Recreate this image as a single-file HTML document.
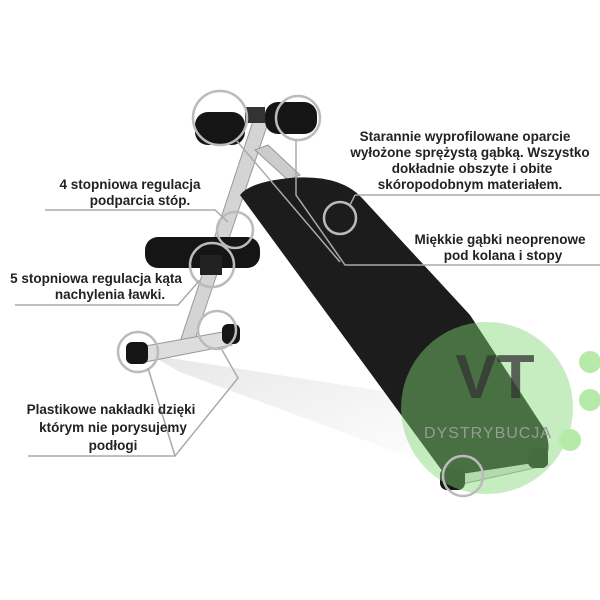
<!DOCTYPE html>
<html><head><meta charset="utf-8"><style>
html,body{margin:0;padding:0;background:#fff}
svg{display:block}
text{font-family:"Liberation Sans",sans-serif;font-weight:bold;font-size:13.5px;fill:#222;text-anchor:middle}
</style></head><body>
<svg width="600" height="600" viewBox="0 0 600 600">
<defs>
<linearGradient id="shadow" x1="0" y1="0" x2="1" y2="1"><stop offset="0" stop-color="#ddd"/><stop offset="1" stop-color="#fff"/></linearGradient>
</defs>
<polygon points="150,355 440,400 445,470 180,372" fill="url(#shadow)" opacity="0.7"/>
<polygon points="256,112 271,114 193,345 178,348" fill="#d4d4d4" stroke="#999" stroke-width="1"/>
<polygon points="255,150 268,145 300,175 288,180" fill="#ccc" stroke="#999"/>
<polygon points="455,470 545,452 548,465 458,485" fill="#ddd" stroke="#999"/>
<path d="M240,195 Q250,182 290,178 Q340,174 362,198 L470,315 L545,430 Q554,455 540,462 L455,475 Q445,476 440,468 Z" fill="#1c1c1c"/>
<rect x="195" y="112" width="50" height="33" rx="13" fill="#151515"/>
<rect x="245" y="107" width="20" height="16" fill="#333"/>
<rect x="265" y="102" width="52" height="32" rx="13" fill="#151515"/>
<rect x="145" y="237" width="115" height="31" rx="13" fill="#151515"/>
<rect x="200" y="255" width="22" height="20" fill="#222"/>
<polygon points="140,347 228,331 232,345 145,362" fill="#ddd" stroke="#999"/>
<rect x="126" y="342" width="22" height="22" rx="6" fill="#151515"/>
<rect x="222" y="324" width="18" height="20" rx="6" fill="#151515"/>
<rect x="440" y="468" width="25" height="22" rx="7" fill="#151515"/>
<rect x="528" y="448" width="20" height="20" rx="6" fill="#151515"/>
<circle cx="487" cy="408" r="86" fill="#7fd870" opacity="0.45"/>
<circle cx="590" cy="362" r="11" fill="#b5eaa8"/>
<circle cx="590" cy="400" r="11" fill="#b5eaa8"/>
<circle cx="570" cy="440" r="11" fill="#b5eaa8"/>
<text x="495" y="398" style="font-size:62px;fill:#333;opacity:0.75">VT</text>
<text x="488" y="438" style="font-size:16px;font-weight:normal;fill:#999;letter-spacing:1px">DYSTRYBUCJA</text>
<g fill="none" stroke="#bbb" stroke-width="2.5">
<circle cx="220" cy="118" r="27"/>
<circle cx="298" cy="118" r="22"/>
<circle cx="235" cy="230" r="18"/>
<circle cx="212" cy="265" r="22"/>
<circle cx="138" cy="352" r="20"/>
<circle cx="217" cy="330" r="19"/>
<circle cx="340" cy="218" r="16"/>
<circle cx="463" cy="476" r="20"/>
</g>
<g fill="none" stroke="#aaa" stroke-width="1.5">
<polyline points="45,210 215,210 228,222"/>
<polyline points="15,305 178,305 200,280"/>
<polyline points="28,456 175,456 238,378 222,350"/>
<polyline points="175,456 148,368"/>
<polyline points="355,195 600,195"/>
<polyline points="355,195 350,205"/>
<polyline points="296,140 296,195 345,265 600,265"/>
<polyline points="236,140 340,262"/>
</g>
<text x="465" y="141">Starannie wyprofilowane oparcie</text>
<text x="470" y="157">wyłożone sprężystą gąbką. Wszystko</text>
<text x="472" y="173">dokładnie obszyte i obite</text>
<text x="470" y="189">skóropodobnym materiałem.</text>
<text x="500" y="244">Miękkie gąbki neoprenowe</text>
<text x="503" y="260">pod kolana i stopy</text>
<text x="130" y="189">4 stopniowa regulacja</text>
<text x="140" y="205">podparcia stóp.</text>
<text x="96" y="283">5 stopniowa regulacja kąta</text>
<text x="110" y="299">nachylenia ławki.</text>
<text x="111" y="414">Plastikowe nakładki dzięki</text>
<text x="113" y="432">którym nie porysujemy</text>
<text x="113" y="450">podłogi</text>
</svg>
</body></html>
